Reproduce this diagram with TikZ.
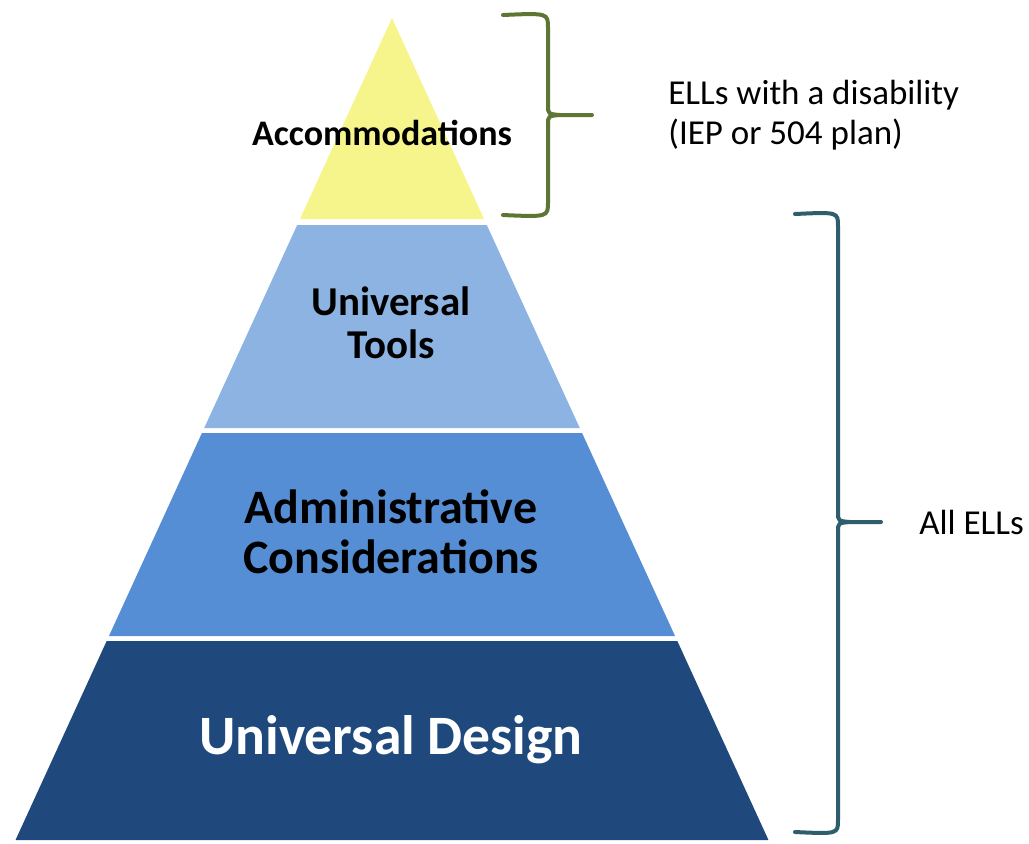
\documentclass[tikz,border=0pt]{standalone}
\usepackage{fontspec}
\setmainfont{Carlito}
\usepackage{tikz}
\usetikzlibrary{positioning}
\usetikzlibrary{calc}

\definecolor{accyellow}{RGB}{245,245,140}
\definecolor{toolblue}{RGB}{141,179,226}
\definecolor{adminblue}{RGB}{85,142,213}
\definecolor{udblue}{RGB}{31,73,125}
\definecolor{braceolive}{RGB}{94,118,52}
\definecolor{braceteal}{RGB}{46,94,108}

\tikzset{
  tier/.style={font=\bfseries, align=center, inner sep=0pt},
  sidelabel/.style={font=\fontsize{17.5}{20}\selectfont, align=left, inner sep=0pt},
  bracket/.style={line width=2pt, line cap=round}
}

\begin{document}
\begin{tikzpicture}[x=0.5pt, y=-0.5pt]
\useasboundingbox (0,0) rectangle (1029,843);

%pyramid
\foreach \yt/\yb/\col in {18/219/accyellow, 225/428/toolblue, 433/636/adminblue, 641/840/udblue} {
  \fill[\col] ({392-0.458*(\yt-18)}, \yt) -- ({392+0.458*(\yt-18)}, \yt)
    -- ({392+0.458*(\yb-18)}, \yb) -- ({392-0.458*(\yb-18)}, \yb) -- cycle;
}

\node[tier, font=\bfseries\fontsize{18}{20}\selectfont] (acc) at (382, 133) {Accommodations};
\node[tier, font=\bfseries\fontsize{20.5}{21.5}\selectfont] (tools) at (391, 323) {Universal\\Tools};
\node[tier, font=\bfseries\fontsize{24}{25}\selectfont] (admin) at (391, 532) {Administrative\\Considerations};
\node[tier, text=white, font=\bfseries\fontsize{27.8}{30}\selectfont] (ud) at (391, 740) {Universal Design};

%braces
\coordinate (topA) at (503, 15);
\coordinate (tipA) at (592, 115);
\coordinate (botA) at (503, 215);
\draw[bracket, braceolive] (topA) .. controls (548, 13) .. (548, 28) -- (548, 105)
  .. controls (548, 114) .. (560, 115) -- (tipA);
\draw[bracket, braceolive] (botA) .. controls (548, 217) .. (548, 202) -- (548, 125)
  .. controls (548, 116) .. (560, 115);

\coordinate (topB) at (795, 214);
\coordinate (tipB) at (881, 522);
\coordinate (botB) at (795, 832);
\draw[bracket, braceteal] (topB) .. controls (838, 212) .. (838, 226) -- (838, 512)
  .. controls (838, 521) .. (850, 522) -- (tipB);
\draw[bracket, braceteal] (botB) .. controls (838, 834) .. (838, 820) -- (838, 532)
  .. controls (838, 523) .. (850, 522);

\node[sidelabel, right=38pt of tipA] (disab) {ELLs with a disability\\(IEP or 504 plan)};
\node[sidelabel, right=19pt of tipB] (allell) {All ELLs};
\end{tikzpicture}
\end{document}
